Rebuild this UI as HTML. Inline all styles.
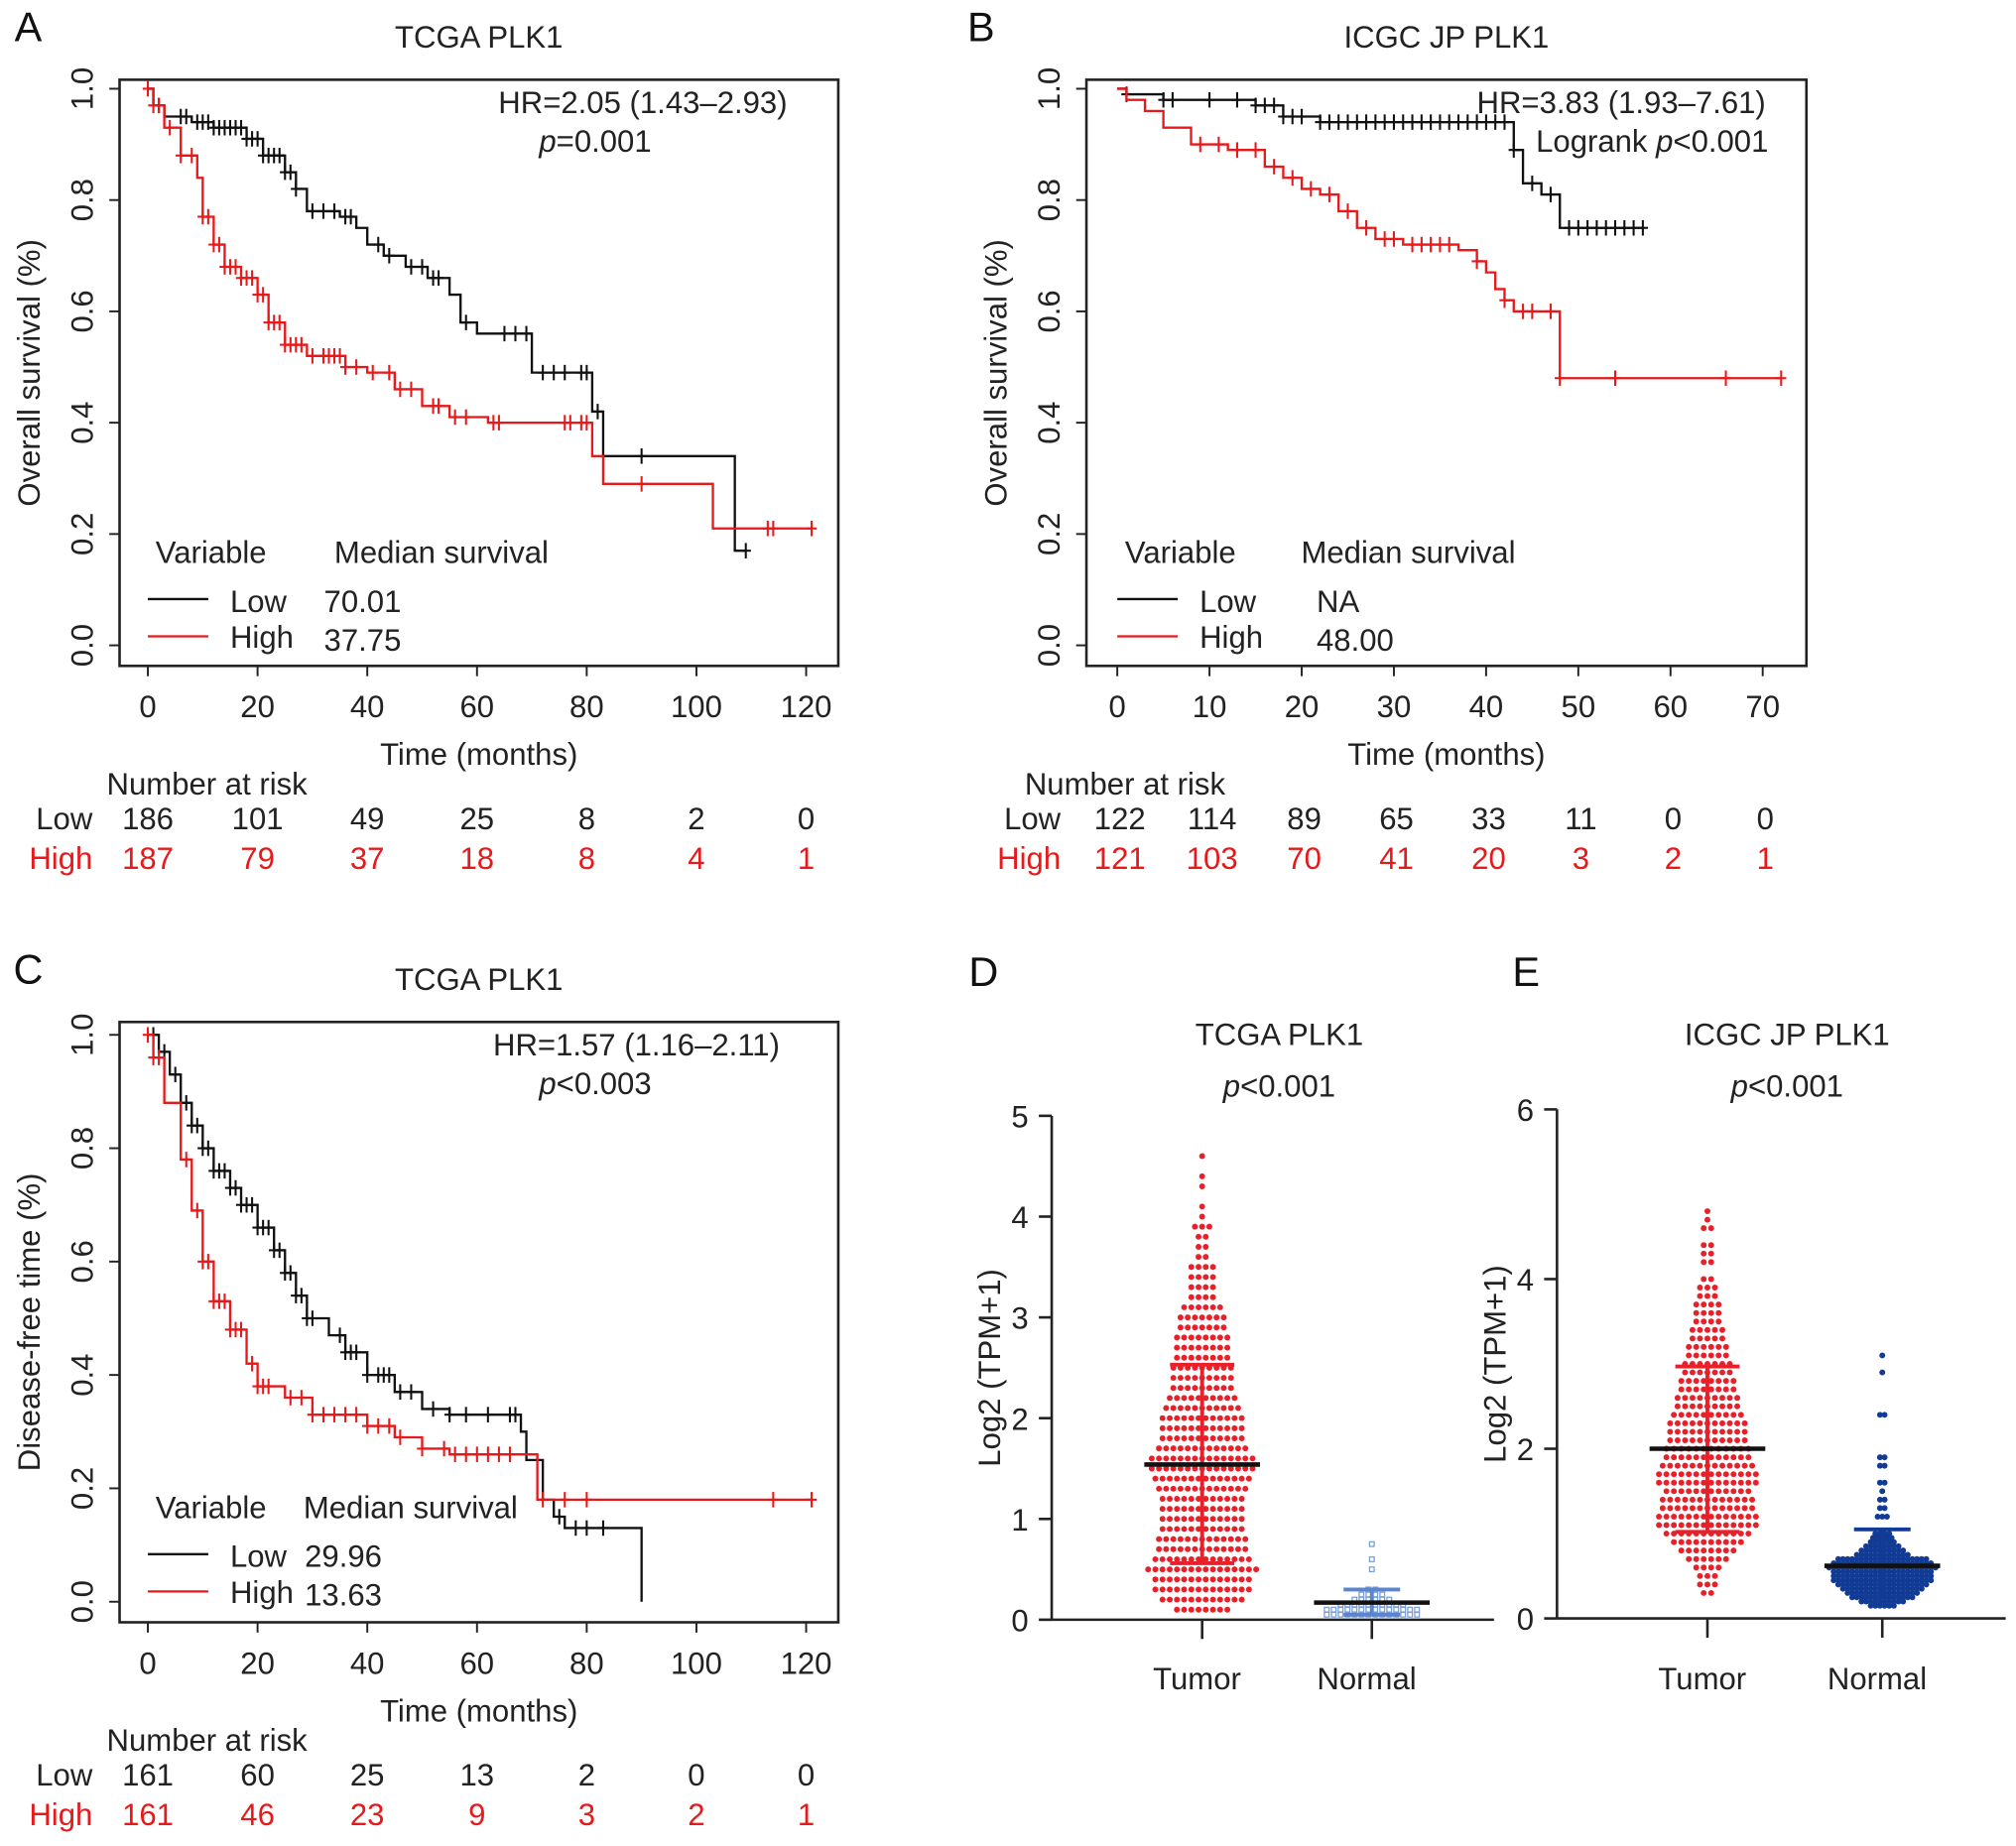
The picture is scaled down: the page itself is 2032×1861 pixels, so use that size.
<!DOCTYPE html>
<html><head><meta charset="utf-8"><style>
html,body{margin:0;padding:0;background:#fff}
svg{display:block;font-family:"Liberation Sans",Arial,sans-serif}
</style></head><body>
<svg id="fig" width="2032" height="1861" viewBox="0 0 1568 1436" xmlns="http://www.w3.org/2000/svg"></svg>
<script>
// ---------- Data: Kaplan-Meier curves ----------
const aLowT=[0,1,3,8,12,18,21,25,27,29,35,38,40,43,47,51,55,57,60,70,81,83,107,109];
const aLowS=[1,0.97,0.95,0.94,0.93,0.91,0.88,0.85,0.82,0.78,0.77,0.75,0.72,0.70,0.68,0.66,0.63,0.58,0.56,0.49,0.42,0.34,0.17,0.17];
const aLowC=[2,6,7,9,10,11,12,13,14,15,16,17,18,19,20,21,22,23,24,25,26,27,30,32,34,36,37,42,44,48,50,52,53,58,65,67,69,72,74,76,79,80,82,90,109];
const aHighT=[0,1,3,6,9,10,12,14,17,20,22,25,29,36,40,45,50,55,62,81,83,103,121];
const aHighS=[1,0.97,0.93,0.88,0.84,0.77,0.72,0.68,0.66,0.63,0.58,0.54,0.52,0.50,0.49,0.46,0.43,0.41,0.40,0.34,0.29,0.21,0.21];
const aHighC=[0,1,2,4,6,8,10,11,12,13,14,15,16,17,18,19,20,21,22,23,24,25,26,27,28,30,32,33,34,35,36,38,41,44,46,48,52,53,56,58,63,64,76,77,79,80,90,113,114,121];
const bLowT=[0,1,5,15,18,22,43,44,46,48,57];
const bLowS=[1,0.99,0.98,0.97,0.95,0.94,0.89,0.83,0.81,0.75,0.75];
const bLowC=[1,5,6,10,13,15,16,17,18,19,20,22,23,24,25,26,27,28,29,30,31,32,33,34,35,36,37,38,39,40,41,42,43,45,47,49,50,51,52,53,54,55,56,57];
const bHighT=[0,1,3,5,8,12,16,18,20,22,24,26,28,31,37,39,40,41,42,43,48,72];
const bHighS=[1,0.98,0.96,0.93,0.90,0.89,0.86,0.84,0.82,0.81,0.78,0.75,0.73,0.72,0.71,0.69,0.67,0.64,0.62,0.60,0.48,0.48];
const bHighC=[9,11,13,15,17,19,21,23,25,27,29,30,32,33,34,35,36,39,42,44,45,47,48,54,66,72];
const cLowT=[0,2,4,6,8,10,12,15,17,20,23,25,27,29,33,36,40,45,50,55,68,69,72,74,76,90];
const cLowS=[1,0.97,0.93,0.88,0.84,0.80,0.76,0.73,0.70,0.66,0.62,0.58,0.54,0.50,0.47,0.44,0.40,0.37,0.34,0.33,0.30,0.25,0.18,0.15,0.13,0];
const cLowC=[1,3,5,7,8,9,10,11,12,13,14,15,16,17,18,19,20,21,22,23,24,25,26,27,28,29,30,35,36,37,38,40,42,43,44,46,48,52,55,58,62,66,67,75,78,80,83];
const cHighT=[0,1,3,6,8,10,12,15,18,20,25,30,40,45,50,55,71,121];
const cHighS=[1,0.96,0.88,0.78,0.69,0.60,0.53,0.48,0.42,0.38,0.36,0.33,0.31,0.29,0.27,0.26,0.18,0.18];
const cHighC=[0,1,2,7,9,10,11,12,13,14,15,16,17,19,20,21,22,26,28,30,32,34,36,38,40,42,44,46,50,54,56,58,60,62,64,66,72,76,80,114,121];
// ---------- Risk tables ----------
const aRiskLow=[186,101,49,25,8,2,0], aRiskHigh=[187,79,37,18,8,4,1];
const bRiskLow=[122,114,89,65,33,11,0,0], bRiskHigh=[121,103,70,41,20,3,2,1];
const cRiskLow=[161,60,25,13,2,0,0], cRiskHigh=[161,46,23,9,3,2,1];
const kmXTicks120=[0,20,40,60,80,100,120], kmXTicks70=[0,10,20,30,40,50,60,70];
const kmYTicks=[0,0.2,0.4,0.6,0.8,1.0];
// ---------- Scatter (counts per value level) ----------
const dTumorLevels=[0.1,0.2,0.3,0.4,0.5,0.6,0.7,0.8,0.9,1.0,1.1,1.2,1.3,1.4,1.5,1.6,1.7,1.8,1.9,2.0,2.1,2.2,2.3,2.4,2.5,2.6,2.7,2.8,2.9,3.0,3.1,3.2,3.3,3.4,3.5,3.6,3.7,3.8,3.9,4.0,4.1,4.3,4.4,4.6];
const dTumorCounts=[8,12,14,14,16,14,13,13,12,12,12,12,13,14,15,15,13,12,12,12,11,10,9,9,9,8,8,8,7,7,6,4,4,4,4,2,2,2,3,1,1,1,1,1];
const dNormalLevels=[0.05,0.1,0.15,0.2,0.25,0.3,0.5,0.6,0.75];
const dNormalCounts=[14,14,10,6,4,2,1,1,1];
const eTumorLevels=[0.3,0.4,0.5,0.6,0.7,0.8,0.9,1.0,1.1,1.2,1.3,1.4,1.5,1.6,1.7,1.8,1.9,2.0,2.1,2.2,2.3,2.4,2.5,2.6,2.7,2.8,2.9,3.0,3.1,3.2,3.3,3.4,3.5,3.6,3.7,3.8,3.9,4.0,4.2,4.3,4.4,4.6,4.7,4.8];
const eTumorCounts=[2,3,3,4,6,8,10,12,14,14,13,13,12,14,14,13,12,12,11,11,11,10,9,9,8,8,7,7,6,6,5,5,4,4,4,3,3,2,2,2,2,2,1,1];
const eNormalLevels=[0.15,0.2,0.25,0.3,0.35,0.4,0.45,0.5,0.55,0.6,0.65,0.7,0.75,0.8,0.85,0.9,0.95,1.0,1.2,1.3,1.4,1.5,1.6,1.8,1.9,2.4,2.9,3.1];
const eNormalCounts=[6,10,14,16,18,20,22,22,22,24,22,20,12,10,8,6,5,4,3,2,2,1,2,2,2,2,1,1];
const dStats=[1.54,0.56,2.53,0.17,0.05,0.30]; // tumor mean,lo,hi; normal mean,lo,hi
const eStats=[2.0,1.02,2.97,0.62,0.25,1.05];
const dYTicks=[0,1,2,3,4,5], eYTicks=[0,2,4,6];

const NS='http://www.w3.org/2000/svg';
const svg=document.getElementById('fig');
function mk(tag,parent){const e=document.createElementNS(NS,tag);(parent||svg).appendChild(e);return e;}
function txt(s,x,y,size,parent,anchor,fill,rot){const t=mk('text',parent);t.textContent=s;t.setAttribute('x',x);t.setAttribute('y',y);t.setAttribute('font-size',size);t.setAttribute('text-anchor',anchor||'middle');t.setAttribute('fill',fill||'#222');if(rot)t.setAttribute('transform','rotate(-90 '+x+' '+y+')');return t;}
function line(x1,y1,x2,y2,parent,stroke,w){const l=mk('line',parent);l.setAttribute('x1',x1);l.setAttribute('y1',y1);l.setAttribute('x2',x2);l.setAttribute('y2',y2);l.setAttribute('stroke',stroke||'#222');l.setAttribute('stroke-width',w||1.5);return l;}
function ital(t,x,y,size,parent,rest){const e=mk('text',parent);e.setAttribute('x',x);e.setAttribute('y',y);e.setAttribute('font-size',size);e.setAttribute('text-anchor','middle');e.setAttribute('fill','#222');const s1=mk('tspan',e);s1.setAttribute('font-style','italic');s1.textContent=t;const s2=mk('tspan',e);s2.textContent=rest;return e;}

function kmPanel(cfg){
  const g=mk('g');
  
  
  const X=t=>cfg.xa+(cfg.xb-cfg.xa)*t/cfg.tmax;
  const Y=v=>cfg.yb-(cfg.yb-cfg.yt)*v;
  txt(cfg.letter,cfg.lx,cfg.y0-30,32,g,'middle','#111');
  const ti=txt(cfg.title,(cfg.x0+cfg.x1)/2,cfg.y0-25,24,g);
  
  
  const box=mk('rect',g);box.setAttribute('x',cfg.x0);box.setAttribute('y',cfg.y0);box.setAttribute('width',cfg.x1-cfg.x0);box.setAttribute('height',cfg.y1-cfg.y0);box.setAttribute('fill','none');box.setAttribute('stroke','#222');box.setAttribute('stroke-width',2);
  
  
  cfg.xticks.forEach(t=>{line(X(t),cfg.y1,X(t),cfg.y1+8,g);txt(String(t),X(t),cfg.y1+40,24,g);});
  cfg.yticks.forEach(v=>{line(cfg.x0-8,Y(v),cfg.x0,Y(v),g);txt(v.toFixed(1),cfg.x0-21,Y(v),24,g,'middle','#222',true);});
  const yt=txt(cfg.ytitle,cfg.x0-62,(cfg.y0+cfg.y1)/2,24,g,'middle','#222',true);
  
  
  const xt=txt('Time (months)',(cfg.x0+cfg.x1)/2,cfg.y1+77,24,g);
  
  
  function curve(T,Sv,C,color,name){
    let d='M'+X(T[0])+' '+Y(Sv[0]);
    for(let i=1;i<T.length;i++){d+=' H'+X(T[i])+' V'+Y(Sv[i]);}
    const p=mk('path',g);p.setAttribute('d',d);p.setAttribute('fill','none');p.setAttribute('stroke',color);p.setAttribute('stroke-width',1.8);
    
    
    C.forEach(c=>{let s=Sv[0];for(let i=0;i<T.length;i++){if(T[i]<=c)s=Sv[i];}
      const cx=X(c),cy=Y(s);line(cx,cy-6,cx,cy+6,g,color,1.6);line(cx-4,cy,cx+4,cy,g,color,1.6);});
  }
  curve(cfg.lowT,cfg.lowS,cfg.lowC,'#111','low');
  curve(cfg.highT,cfg.highS,cfg.highC,'#e8191b','high');
  txt(cfg.hr,cfg.hrx,cfg.y0+26,24,g);
  if(cfg.pit) ital('p',cfg.px,cfg.y0+56,24,g,cfg.pit); else {const e2=mk('text',g);e2.setAttribute('x',cfg.px);e2.setAttribute('y',cfg.y0+56);e2.setAttribute('font-size',24);e2.setAttribute('text-anchor','middle');e2.setAttribute('fill','#222');e2.innerHTML='Logrank <tspan font-style="italic">p</tspan>&lt;0.001';}
  const lg=mk('g',g);
  
  
  txt('Variable',cfg.lgx+6,cfg.lgy,24,lg,'start');
  txt('Median survival',cfg.lgx+cfg.msx,cfg.lgy,24,lg,'start');
  line(cfg.lgx,cfg.lgy+28,cfg.lgx+47,cfg.lgy+28,lg,'#111',1.8);
  txt('Low',cfg.lgx+64,cfg.lgy+38,24,lg,'start');txt(cfg.medLow,cfg.lgx+cfg.mvx,cfg.lgy+38,24,lg,'start');
  line(cfg.lgx,cfg.lgy+57,cfg.lgx+47,cfg.lgy+57,lg,'#e8191b',1.8);
  txt('High',cfg.lgx+64,cfg.lgy+66,24,lg,'start');txt(cfg.medHigh,cfg.lgx+cfg.mvx,cfg.lgy+68,24,lg,'start');
  const rt=mk('g',g);
  
  
  txt('Number at risk',cfg.nrx,cfg.y1+100,24,rt,'start');
  txt('Low',cfg.rlx,cfg.y1+127,24,rt,'end');
  txt('High',cfg.rlx,cfg.y1+158,24,rt,'end','#e8191b');
  cfg.riskLow.forEach((n,i)=>txt(String(n),X(cfg.xticks[i])+cfg.rdx,cfg.y1+127,24,rt));
  cfg.riskHigh.forEach((n,i)=>txt(String(n),X(cfg.xticks[i])+cfg.rdx,cfg.y1+158,24,rt,'middle','#e8191b'));
}
kmPanel({name:'panel-a-km',letter:'A',lx:22,title:'TCGA PLK1',x0:93,x1:652,y0:62,y1:518,xa:115,xb:627,tmax:120,yb:502,yt:69,
 xticks:kmXTicks120,yticks:kmYTicks,ytitle:'Overall survival (%)',lowT:aLowT,lowS:aLowS,lowC:aLowC,highT:aHighT,highS:aHighS,highC:aHighC,
 hr:'HR=2.05 (1.43–2.93)',hrx:500,pit:'=0.001',px:463,lgx:115,lgy:438,msx:145,mvx:137,medLow:'70.01',medHigh:'37.75',
 nrx:83,rlx:72,riskLow:aRiskLow,riskHigh:aRiskHigh,rdx:0});
kmPanel({name:'panel-b-km',letter:'B',lx:763,title:'ICGC JP PLK1',x0:845,x1:1405,y0:62,y1:518,xa:869,xb:1371,tmax:70,yb:502,yt:69,
 xticks:kmXTicks70,yticks:kmYTicks,ytitle:'Overall survival (%)',lowT:bLowT,lowS:bLowS,lowC:bLowC,highT:bHighT,highS:bHighS,highC:bHighC,
 hr:'HR=3.83 (1.93–7.61)',hrx:1261,pit:null,px:1285,lgx:869,lgy:438,msx:143,mvx:155,medLow:'NA',medHigh:'48.00',
 nrx:797,rlx:825,riskLow:bRiskLow,riskHigh:bRiskHigh,rdx:2});
kmPanel({name:'panel-c-km',letter:'C',lx:22,title:'TCGA PLK1',x0:93,x1:652,y0:795,y1:1262,xa:115,xb:627,tmax:120,yb:1246,yt:805,
 xticks:kmXTicks120,yticks:kmYTicks,ytitle:'Disease-free time (%)',lowT:cLowT,lowS:cLowS,lowC:cLowC,highT:cHighT,highS:cHighS,highC:cHighC,
 hr:'HR=1.57 (1.16–2.11)',hrx:495,pit:'<0.003',px:463,lgx:115,lgy:1181,msx:121,mvx:122,medLow:'29.96',medHigh:'13.63',
 nrx:83,rlx:72,riskLow:cRiskLow,riskHigh:cRiskHigh,rdx:0});

function dotPanel(cfg){
  const g=mk('g');
  
  
  const Y=v=>cfg.y0-(cfg.y0-cfg.ytop)*v/cfg.vmax;
  txt(cfg.letter,cfg.lx,767,32,g,'middle','#111');
  txt(cfg.title,cfg.tx,813,24,g);
  ital('p',cfg.tx,853,24,g,'<0.001');
  line(cfg.ax,Y(cfg.vmax),cfg.ax,cfg.y0,g,'#222',2);
  line(cfg.ax,cfg.y0,cfg.ax2,cfg.y0,g,'#222',2);
  cfg.yticks.forEach(v=>{line(cfg.ax-10,Y(v),cfg.ax,Y(v),g,'#222',2);txt(String(v),cfg.ax-18,Y(v)+9,24,g,'end');});
  const yt=txt('Log2 (TPM+1)',cfg.ax-40,Y(cfg.vmax*0.5),24,g,'middle','#222',true);
  
  
  [[cfg.tc,'Tumor'],[cfg.nc,'Normal']].forEach(([x,l])=>{line(x,cfg.y0,x,cfg.y0+15,g,'#222',2);txt(l,x-4,1314,24,g);});
  function swarm(levels,counts,cx,color,square,name,sp){
    const sg=mk('g',g);
    
    
    levels.forEach((v,k)=>{const n=counts[k];for(let i=0;i<n;i++){const x=cx+(i-(n-1)/2)*sp;const y=Y(v);
      if(square){const r=mk('rect',sg);r.setAttribute('x',x-1.8);r.setAttribute('y',y-1.8);r.setAttribute('width',3.6);r.setAttribute('height',3.6);r.setAttribute('fill','none');r.setAttribute('stroke',color);r.setAttribute('stroke-width',1);}
      else{const c=mk('circle',sg);c.setAttribute('cx',x);c.setAttribute('cy',y);c.setAttribute('r',2.3);c.setAttribute('fill',color);}}});
  }
  swarm(cfg.tl,cfg.tcnt,cfg.tc,'#e8202a',false,'tumor-dots',cfg.sp);
  swarm(cfg.nl,cfg.ncnt,cfg.nc,cfg.ncol,cfg.nsq,'normal-dots',cfg.nsp);
  function bars(cx,m,lo,hi,col,cw,mw){line(cx,Y(lo),cx,Y(hi),g,col,3);line(cx-cw,Y(lo),cx+cw,Y(lo),g,col,3);line(cx-cw,Y(hi),cx+cw,Y(hi),g,col,3);line(cx-mw,Y(m),cx+mw,Y(m),g,'#111',3.5);}
  bars(cfg.tc,cfg.st[0],cfg.st[1],cfg.st[2],'#e8202a',25,45);
  bars(cfg.nc,cfg.st[3],cfg.st[4],cfg.st[5],cfg.ncol2,22,45);
}
dotPanel({name:'panel-d-dotplot',letter:'D',lx:765,title:'TCGA PLK1',tx:995,ax:818,ax2:1162,y0:1260,ytop:868,vmax:5,yticks:dYTicks,tc:935,nc:1067,sp:5.6,nsp:5.4,
 tl:dTumorLevels,tcnt:dTumorCounts,nl:dNormalLevels,ncnt:dNormalCounts,ncol:'#7b9fd6',ncol2:'#5a86d0',nsq:true,st:dStats});
dotPanel({name:'panel-e-dotplot',letter:'E',lx:1187,title:'ICGC JP PLK1',tx:1390,ax:1211,ax2:1560,y0:1259,ytop:863,vmax:6,yticks:eYTicks,tc:1328,nc:1464,sp:5.8,nsp:3.6,
 tl:eTumorLevels,tcnt:eTumorCounts,nl:eNormalLevels,ncnt:eNormalCounts,ncol:'#123b95',ncol2:'#123b95',nsq:false,st:eStats});
</script>
</body></html>
